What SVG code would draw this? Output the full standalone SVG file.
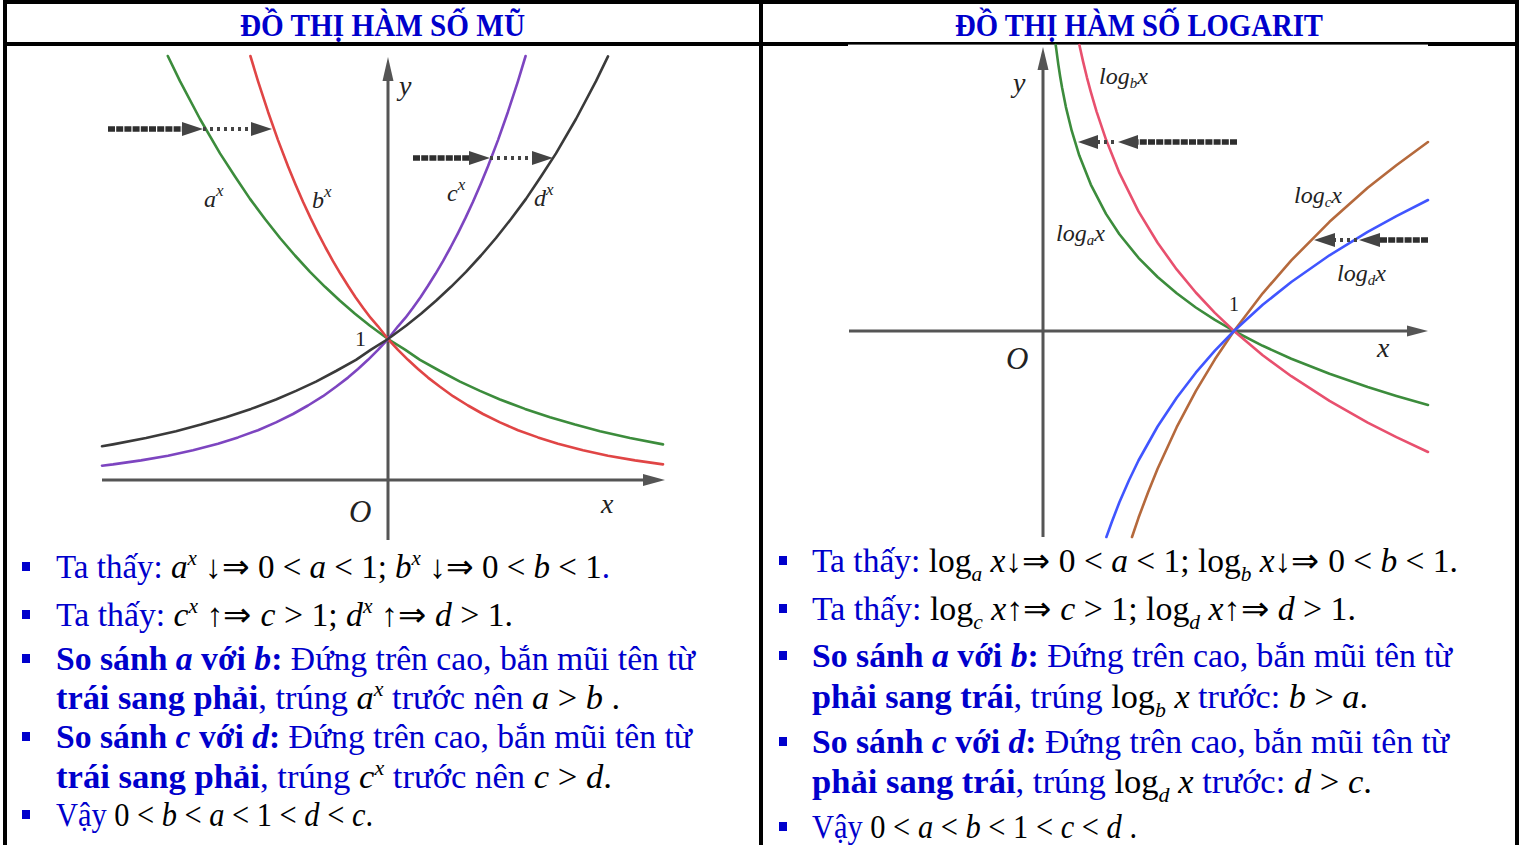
<svg xmlns="http://www.w3.org/2000/svg" width="1526" height="845" viewBox="0 0 1526 845">
<defs>
<style>
.frame{stroke:#000;stroke-width:4;fill:none}
.hdr{font-family:"Liberation Serif",serif;font-weight:bold;font-size:32px;fill:#0000CC}
.axis{stroke:#555;stroke-width:3;fill:none}
.axh{fill:#555}
.cv{fill:none;stroke-width:2.6;stroke-linejoin:round;stroke-linecap:round}
.lbl{font-family:"Liberation Serif",serif;font-style:italic;fill:#222}
.num{font-family:"Liberation Serif",serif;fill:#222}
.shaft{stroke:#2e2e2e;stroke-width:5.5;stroke-dasharray:7 1.2;fill:none}
.dot{stroke:#444;stroke-width:4;stroke-dasharray:3 4;fill:none}
.head{fill:#444}
.t{font-family:"Liberation Serif",serif;font-size:33px;fill:#0000CC}
.b{font-weight:bold}
.m{fill:#000}
.i{font-style:italic}
.sup{font-size:21px}
.bul{fill:#0000CC}
</style>
</defs>
<rect x="0" y="0" width="1526" height="845" fill="#fff"/>

<g id="frame">
<line class="frame" x1="3" y1="2" x2="1519" y2="2"/>
<line class="frame" x1="5" y1="0" x2="5" y2="845"/>
<line class="frame" x1="1517" y1="0" x2="1517" y2="845"/>
<line class="frame" x1="761" y1="0" x2="761" y2="845"/>
<line class="frame" x1="3" y1="44" x2="1519" y2="44"/>
</g>

<g id="header-exp">
<text class="hdr" x="240" y="36" textLength="285" lengthAdjust="spacingAndGlyphs">ĐỒ THỊ HÀM SỐ MŨ</text>
</g>
<g id="header-log">
<text class="hdr" x="955" y="36" textLength="368" lengthAdjust="spacingAndGlyphs">ĐỒ THỊ HÀM SỐ LOGARIT</text>
</g>

<g id="graph-exp">
<line class="axis" x1="102" y1="480" x2="645" y2="480"/>
<polygon class="axh" points="665,480 643,474 643,486"/>
<line class="axis" x1="388" y1="540" x2="388" y2="78"/>
<polygon class="axh" points="388,57 382.5,81 393.5,81"/>
<polyline class="cv" stroke="#3C8C3C" points="167.8,56 180,81.1 200,119 220,153.4 235,176.5 250,198.9 265,219 280,238 295,255.5 310,271.8 325,286.8 340,300.8 355,313.7 370,325.7 388,339 405,349.6 420,359.8 440,371 460,381.6 480,390.9 500,399.5 525,408.9 550,417.3 575,424.6 600,431.2 630,438 663,444.4"/>
<polyline class="cv" stroke="#E04545" points="250.4,56 258,81.1 268,111.7 278,140.1 288,166.2 295.5,184.4 303,201.7 310.5,217.9 318,233.1 325.5,247.5 333,261.1 340.5,273.8 348,285.8 355.5,297.2 363,307.8 370.5,317.7 378,326.3 388,339 398,349.8 408,359.8 418,369 428,377.6 440,386.8 453,396.2 468,405.5 483,414 500,422.4 518,430.2 538,437.4 558,443.8 583,450.2 608,455.7 635,460.4 663,464.4"/>
<polyline class="cv" stroke="#7D45C0" points="525.6,56 518,81.1 508,111.7 498,140.1 488,166.2 480.5,184.4 473,201.7 465.5,217.9 458,233.1 450.5,247.5 443,261.1 435.5,273.8 428,285.8 420.5,297.2 413,307.8 405.5,317.7 398,326.3 388,339 378,349.8 368,359.8 358,369 348,377.6 336,386.8 323,396.2 308,405.5 293,414 276,422.4 258,430.2 238,437.4 218,443.8 193,450.2 168,455.7 141,460.4 113,464.4 102,465.7"/>
<polyline class="cv" stroke="#3A3A3A" points="608,56.4 596,81.1 576,119 556,153.4 541,176.5 526,198.9 511,219 496,238 481,255.5 466,271.8 451,286.8 436,300.8 421,313.7 406,325.7 388,339 371,349.6 356,359.8 336,371 316,381.6 296,390.9 276,399.5 251,408.9 226,417.3 201,424.6 176,431.2 146,438 113,444.4 102,446.3"/>
<text class="lbl" x="399" y="95" font-size="28">y</text>
<text class="lbl" x="204" y="207" font-size="24">a<tspan font-size="17" dy="-11">x</tspan></text>
<text class="lbl" x="312" y="208" font-size="24">b<tspan font-size="17" dy="-11">x</tspan></text>
<text class="lbl" x="447" y="201" font-size="24">c<tspan font-size="17" dy="-11">x</tspan></text>
<text class="lbl" x="534" y="206" font-size="24">d<tspan font-size="17" dy="-11">x</tspan></text>
<text class="num" x="355" y="346" font-size="22">1</text>
<text class="lbl" x="349" y="522" font-size="31">O</text>
<text class="lbl" x="601" y="513" font-size="28">x</text>
</g>

<g id="graph-log">
<rect x="848" y="44.6" width="580" height="1.6" fill="#fff"/>
<line class="axis" x1="849" y1="331" x2="1408" y2="331"/>
<polygon class="axh" points="1428,331 1407,325.5 1407,336.5"/>
<line class="axis" x1="1043" y1="537" x2="1043" y2="68"/>
<polygon class="axh" points="1043,47 1037.5,70 1048.5,70"/>
<polyline class="cv" stroke="#3C8C3C" points="1055.7,45 1056.4,50.2 1058.3,64.3 1060.2,76.7 1062.1,87.8 1065.9,107.1 1071.7,130.7 1079.3,155.6 1090.8,184.6 1106,213.9 1119.4,234.3 1138.5,257.8 1157.6,277 1176.7,293.3 1195.8,307.5 1214.9,319.9 1234,331 1262.7,345.8 1291.3,358.7 1329.5,373.8 1367.7,387.1 1396.4,395.9 1428,405"/>
<polyline class="cv" stroke="#E8506E" points="1079.4,45 1083.1,61.6 1086.9,77.3 1090.8,91.8 1096.5,111.3 1106,139.6 1119.4,172.9 1138.5,211.4 1157.6,242.8 1176.7,269.4 1195.8,292.5 1214.9,312.9 1234,331 1262.7,355.2 1291.3,376.2 1329.5,400.9 1367.7,422.7 1396.4,437.1 1428,452"/>
<polyline class="cv" stroke="#B5693C" points="1132,537 1138.5,517.8 1148.1,492.2 1157.6,468.8 1176.7,427.2 1195.8,391.1 1214.9,359.3 1234,331 1262.7,293.3 1291.3,260.4 1329.5,221.8 1367.7,187.8 1396.4,165.2 1428,142"/>
<polyline class="cv" stroke="#4055FF" points="1106.4,537 1111.8,522 1119.4,502.2 1129,480.2 1138.5,460.5 1157.6,426.5 1176.7,397.7 1195.8,372.7 1214.9,350.6 1234,331 1262.7,304.8 1291.3,282 1329.5,255.3 1367.7,231.8 1396.4,216.1 1428,200"/>
<text class="lbl" x="1013" y="92" font-size="28">y</text>
<text class="lbl" x="1099" y="84" font-size="24">log<tspan font-size="15" dy="4">b</tspan><tspan dy="-4">x</tspan></text>
<text class="lbl" x="1056" y="241" font-size="24">log<tspan font-size="15" dy="4">a</tspan><tspan dy="-4">x</tspan></text>
<text class="lbl" x="1294" y="203" font-size="24">log<tspan font-size="15" dy="4">c</tspan><tspan dy="-4">x</tspan></text>
<text class="lbl" x="1337" y="281" font-size="24">log<tspan font-size="15" dy="4">d</tspan><tspan dy="-4">x</tspan></text>
<text class="num" x="1229" y="311" font-size="20">1</text>
<text class="lbl" x="1006" y="369" font-size="31">O</text>
<text class="lbl" x="1377" y="357" font-size="28">x</text>
</g>

<g id="connectors">
<line class="shaft" x1="108" y1="129" x2="184" y2="129"/>
<polygon class="head" points="203,129 182,122 182,136"/>
<line class="dot" x1="203" y1="129" x2="251" y2="129"/>
<polygon class="head" points="272,129 251,122 251,136"/>
<line class="shaft" x1="413" y1="158" x2="471" y2="158"/>
<polygon class="head" points="490,158 469,151 469,165"/>
<line class="dot" x1="490" y1="158" x2="533" y2="158"/>
<polygon class="head" points="553,158 532,151 532,165"/>
<line class="shaft" x1="1237" y1="142" x2="1136" y2="142"/>
<polygon class="head" points="1118,142 1138,135 1138,149"/>
<line class="dot" x1="1097" y1="142" x2="1118" y2="142"/>
<polygon class="head" points="1078,142 1098,135 1098,149"/>
<line class="shaft" x1="1428" y1="240" x2="1378" y2="240"/>
<polygon class="head" points="1359,240 1380,233 1380,247"/>
<line class="dot" x1="1333" y1="240" x2="1359" y2="240"/>
<polygon class="head" points="1314,240 1335,233 1335,247"/>
</g>

<g id="text-exp">
<rect class="bul" x="22" y="562" width="8" height="9"/>
<rect class="bul" x="22" y="610" width="8" height="9"/>
<rect class="bul" x="22" y="654" width="8" height="9"/>
<rect class="bul" x="22" y="732" width="8" height="9"/>
<rect class="bul" x="22" y="810" width="8" height="9"/>
<text class="t" x="56" y="578" textLength="554" lengthAdjust="spacingAndGlyphs">Ta thấy: <tspan class="m i">a</tspan><tspan class="m i sup" dy="-13">x</tspan><tspan class="m" dy="13"> ↓⇒ 0 &lt; </tspan><tspan class="m i">a</tspan><tspan class="m"> &lt; 1;  </tspan><tspan class="m i">b</tspan><tspan class="m i sup" dy="-13">x</tspan><tspan class="m" dy="13"> ↓⇒ 0 &lt; </tspan><tspan class="m i">b</tspan><tspan class="m"> &lt; 1</tspan>.</text>
<text class="t" x="56" y="626" textLength="457" lengthAdjust="spacingAndGlyphs">Ta thấy: <tspan class="m i">c</tspan><tspan class="m i sup" dy="-13">x</tspan><tspan class="m" dy="13"> ↑⇒ </tspan><tspan class="m i">c</tspan><tspan class="m"> &gt; 1; </tspan><tspan class="m i">d</tspan><tspan class="m i sup" dy="-13">x</tspan><tspan class="m" dy="13"> ↑⇒ </tspan><tspan class="m i">d</tspan><tspan class="m"> &gt; 1.</tspan></text>
<text class="t" x="56" y="670" textLength="639" lengthAdjust="spacingAndGlyphs"><tspan class="b">So sánh <tspan class="i">a</tspan> với <tspan class="i">b</tspan>:</tspan> Đứng trên cao, bắn mũi tên từ</text>
<text class="t" x="56" y="709" textLength="564" lengthAdjust="spacingAndGlyphs"><tspan class="b">trái sang phải</tspan>, trúng <tspan class="m i">a</tspan><tspan class="m i sup" dy="-13">x</tspan><tspan dy="13"> trước nên </tspan><tspan class="m i">a</tspan><tspan class="m"> &gt; </tspan><tspan class="m i">b</tspan><tspan class="m"> .</tspan></text>
<text class="t" x="56" y="748" textLength="636" lengthAdjust="spacingAndGlyphs"><tspan class="b">So sánh <tspan class="i">c</tspan> với <tspan class="i">d</tspan>:</tspan> Đứng trên cao, bắn mũi tên từ</text>
<text class="t" x="56" y="788" textLength="556" lengthAdjust="spacingAndGlyphs"><tspan class="b">trái sang phải</tspan>, trúng <tspan class="m i">c</tspan><tspan class="m i sup" dy="-13">x</tspan><tspan dy="13"> trước nên </tspan><tspan class="m i">c</tspan><tspan class="m"> &gt; </tspan><tspan class="m i">d</tspan><tspan class="m">.</tspan></text>
<text class="t" x="56" y="826" textLength="317" lengthAdjust="spacingAndGlyphs">Vậy <tspan class="m">0 &lt; <tspan class="i">b</tspan> &lt; <tspan class="i">a</tspan> &lt; 1 &lt; <tspan class="i">d</tspan> &lt; <tspan class="i">c</tspan>.</tspan></text>
</g>

<g id="text-log">
<rect class="bul" x="779" y="556" width="8" height="9"/>
<rect class="bul" x="779" y="604" width="8" height="9"/>
<rect class="bul" x="779" y="651" width="8" height="9"/>
<rect class="bul" x="779" y="737" width="8" height="9"/>
<rect class="bul" x="779" y="822" width="8" height="9"/>
<text class="t" x="812" y="572" textLength="646" lengthAdjust="spacingAndGlyphs">Ta thấy: <tspan class="m">log</tspan><tspan class="m i sup" dy="9">a</tspan><tspan class="m i" dy="-9"> x</tspan><tspan class="m">↓⇒ 0 &lt; </tspan><tspan class="m i">a</tspan><tspan class="m"> &lt; 1;  log</tspan><tspan class="m i sup" dy="9">b</tspan><tspan class="m i" dy="-9"> x</tspan><tspan class="m">↓⇒ 0 &lt; </tspan><tspan class="m i">b</tspan><tspan class="m"> &lt; 1.</tspan></text>
<text class="t" x="812" y="620" textLength="544" lengthAdjust="spacingAndGlyphs">Ta thấy: <tspan class="m">log</tspan><tspan class="m i sup" dy="9">c</tspan><tspan class="m i" dy="-9"> x</tspan><tspan class="m">↑⇒ </tspan><tspan class="m i">c</tspan><tspan class="m"> &gt; 1; log</tspan><tspan class="m i sup" dy="9">d</tspan><tspan class="m i" dy="-9"> x</tspan><tspan class="m">↑⇒ </tspan><tspan class="m i">d</tspan><tspan class="m"> &gt; 1.</tspan></text>
<text class="t" x="812" y="667" textLength="640" lengthAdjust="spacingAndGlyphs"><tspan class="b">So sánh <tspan class="i">a</tspan> với <tspan class="i">b</tspan>:</tspan> Đứng trên cao, bắn mũi tên từ</text>
<text class="t" x="812" y="708" textLength="556" lengthAdjust="spacingAndGlyphs"><tspan class="b">phải sang trái</tspan>, trúng <tspan class="m">log</tspan><tspan class="m i sup" dy="9">b</tspan><tspan class="m i" dy="-9"> x</tspan> trước: <tspan class="m i">b</tspan><tspan class="m"> &gt; </tspan><tspan class="m i">a</tspan><tspan class="m">.</tspan></text>
<text class="t" x="812" y="753" textLength="637" lengthAdjust="spacingAndGlyphs"><tspan class="b">So sánh <tspan class="i">c</tspan> với <tspan class="i">d</tspan>:</tspan> Đứng trên cao, bắn mũi tên từ</text>
<text class="t" x="812" y="793" textLength="560" lengthAdjust="spacingAndGlyphs"><tspan class="b">phải sang trái</tspan>, trúng <tspan class="m">log</tspan><tspan class="m i sup" dy="9">d</tspan><tspan class="m i" dy="-9"> x</tspan> trước: <tspan class="m i">d</tspan><tspan class="m"> &gt; </tspan><tspan class="m i">c</tspan><tspan class="m">.</tspan></text>
<text class="t" x="812" y="838" textLength="325" lengthAdjust="spacingAndGlyphs">Vậy <tspan class="m">0 &lt; <tspan class="i">a</tspan> &lt; <tspan class="i">b</tspan> &lt; 1 &lt; <tspan class="i">c</tspan> &lt; <tspan class="i">d</tspan> .</tspan></text>
</g>
</svg>
